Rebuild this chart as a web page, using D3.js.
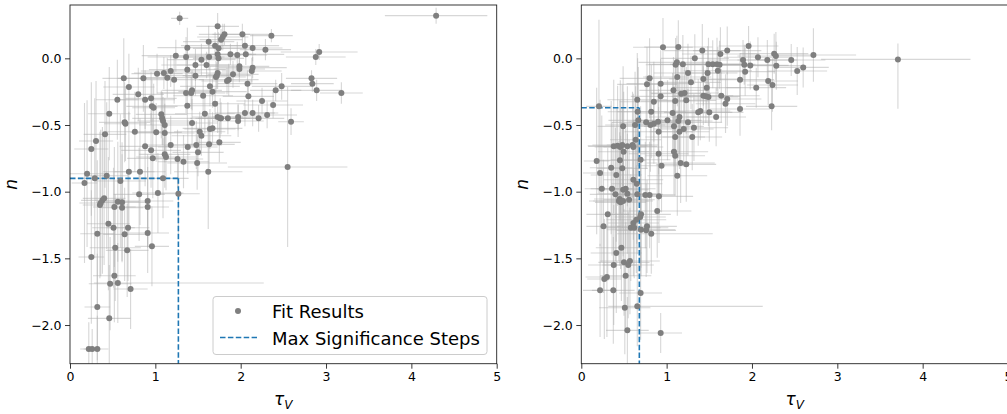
<!DOCTYPE html>
<html>
<head>
<meta charset="utf-8">
<script src="https://cdn.jsdelivr.net/npm/d3@7"></script>
<style>
  html, body { margin: 0; padding: 0; background: #fff; }
  svg { display: block; font-family: "DejaVu Sans", sans-serif; }
</style>
</head>
<body>
<svg id="chart" width="1007" height="414"></svg>
<script>
// ---- Left panel: fit results (tau_V, n) with uncertainties ----
// Error entries are either a symmetric value or [below, above].
const tauA = [1.285,4.29,1.73,1.81,2.02,2.36,1.79,1.77,1.625,1.375,1.70,1.74,2.05,2.14,2.29,2.92,2.88,1.24,1.36,1.63,
  1.73,1.88,1.96,2.06,1.74,1.54,1.60,1.47,1.375,1.985,1.985,2.14,2.13,1.18,1.02,1.10,1.14,1.22,0.63,0.86,
  1.47,1.73,1.72,1.71,1.91,1.86,1.84,2.08,2.83,2.84,2.89,3.18,2.41,2.48,1.64,1.67,1.43,1.42,1.36,1.56,
  2.09,0.69,0.80,0.88,0.95,0.555,0.96,0.98,1.375,1.70,2.25,2.38,0.46,1.07,1.08,1.09,1.11,1.58,1.73,1.76,
  1.77,1.85,1.97,1.97,2.05,2.14,2.21,2.31,2.59,0.64,0.65,1.43,0.76,1.01,1.11,1.52,1.54,1.64,1.67,0.41,
  0.305,0.25,0.88,0.95,0.97,1.11,1.125,1.18,1.26,1.33,1.38,1.48,1.50,1.49,1.63,1.75,1.62,2.55,0.20,0.29,
  0.43,0.69,0.82,0.59,1.09,0.17,0.81,1.03,1.27,0.40,0.38,0.36,0.35,0.56,0.61,0.52,0.61,0.91,0.91,0.45,
  0.51,0.68,0.32,0.64,0.91,0.53,0.67,0.96,0.25,0.52,0.56,0.47,0.71,0.32,0.46,0.22,0.26,0.32];
const nA = [0.30,0.32,0.24,0.18,0.18,0.17,0.16,0.14,0.125,0.08,0.095,0.075,0.095,0.078,0.065,0.048,0.01,0.02,0.01,0.01,
  0.03,0.03,0.025,0.03,0.0,-0.01,-0.05,-0.05,-0.085,-0.06,-0.08,-0.07,-0.095,-0.095,-0.115,-0.11,-0.145,-0.16,-0.15,-0.15,
  -0.13,-0.11,-0.13,-0.14,-0.12,-0.16,-0.17,-0.19,-0.15,-0.19,-0.24,-0.26,-0.24,-0.21,-0.21,-0.25,-0.24,-0.26,-0.26,-0.28,
  -0.285,-0.215,-0.27,-0.31,-0.30,-0.31,-0.36,-0.37,-0.355,-0.34,-0.32,-0.35,-0.415,-0.42,-0.45,-0.47,-0.50,-0.415,-0.44,-0.45,
  -0.45,-0.45,-0.44,-0.47,-0.41,-0.41,-0.45,-0.425,-0.475,-0.48,-0.49,-0.485,-0.55,-0.555,-0.56,-0.55,-0.58,-0.53,-0.525,-0.57,
  -0.62,-0.68,-0.66,-0.69,-0.75,-0.72,-0.74,-0.65,-0.755,-0.775,-0.665,-0.65,-0.705,-0.785,-0.645,-0.63,-0.85,-0.815,-0.865,-0.90,
  -0.88,-0.85,-0.85,-0.92,-0.90,-0.935,-1.02,-1.01,-1.015,-1.05,-1.065,-1.085,-1.10,-1.075,-1.08,-1.115,-1.12,-1.07,-1.115,-1.24,
  -1.27,-1.27,-1.315,-1.32,-1.31,-1.42,-1.44,-1.41,-1.49,-1.63,-1.685,-1.69,-1.73,-1.865,-1.95,-2.18,-2.18,-2.18];
const tauErrA = [0.10,0.60,0.25,0.30,0.35,0.25,0.30,0.25,0.30,0.35,0.40,0.30,0.40,0.35,0.30,0.45,0.35,0.40,0.45,0.35,
  0.40,0.30,0.35,0.45,0.30,0.40,0.35,0.40,0.45,0.35,0.30,0.40,0.35,0.35,0.30,0.35,0.30,0.35,0.25,0.30,
  0.40,0.35,0.40,0.35,0.30,0.35,0.30,0.35,0.30,0.25,0.30,0.25,0.30,0.35,0.35,0.40,0.35,0.40,0.30,0.35,
  0.30,0.30,0.30,0.35,0.30,0.25,0.30,0.25,0.35,0.35,0.30,0.35,0.25,0.30,0.35,0.30,0.30,0.35,0.30,0.35,
  0.30,0.35,0.30,0.30,0.35,0.30,0.30,0.35,0.15,0.30,0.25,0.30,0.35,0.30,0.35,0.30,0.35,0.30,0.35,0.25,
  0.20,0.20,0.30,0.35,0.30,0.30,0.35,0.30,0.30,0.30,0.35,0.30,0.30,0.35,0.30,0.25,0.40,0.70,0.20,0.20,
  0.25,0.30,0.30,0.30,0.30,0.15,0.30,0.30,0.25,0.25,0.25,0.25,0.20,0.25,0.30,0.25,0.25,0.30,0.25,0.25,
  0.25,0.25,0.20,0.25,0.25,0.30,0.25,0.20,0.15,0.25,[0.28,1.71],0.25,0.20,0.15,0.25,0.10,0.10,[0.10,0.13]];
const nErrA = [0.05,0.06,0.10,0.08,0.08,0.05,0.10,0.08,0.12,0.15,0.10,0.12,0.08,0.10,0.08,0.06,0.06,0.12,0.15,0.10,
  0.12,0.08,0.10,0.08,0.10,0.12,0.10,0.12,0.15,0.08,0.10,0.08,0.10,0.12,0.15,0.12,0.15,0.18,0.30,0.25,
  0.15,0.12,0.10,0.12,0.10,0.12,0.10,0.10,0.06,0.06,0.08,0.08,0.08,0.10,0.15,0.12,0.15,0.12,0.15,0.12,
  0.12,0.25,0.20,0.22,0.20,0.30,0.20,0.18,0.15,0.12,0.10,0.10,0.35,0.18,0.20,0.18,0.20,0.15,0.12,0.15,
  0.12,0.12,0.10,0.12,0.10,0.10,0.10,0.10,0.10,0.30,0.28,0.18,0.30,0.22,0.22,0.15,0.15,0.15,0.12,0.40,
  0.45,0.50,0.30,0.28,0.30,0.25,0.25,0.22,0.22,0.20,0.20,0.18,0.18,0.20,0.18,0.15,0.43,0.60,0.55,0.60,
  0.55,0.45,0.40,0.50,0.30,0.60,0.35,0.30,0.30,0.50,0.55,0.55,0.55,0.45,0.45,0.45,0.40,0.35,0.30,0.50,
  0.45,0.40,0.55,0.35,0.30,0.40,0.35,0.30,0.50,0.35,0.30,0.35,0.30,0.40,0.40,0.20,0.15,[0.15,0.25]];
const stepA = { tau: 1.27, n: -0.90 };

// ---- Right panel ----
const tauB = [0.957,1.137,1.418,1.33,1.63,1.71,1.96,1.895,1.91,1.98,2.07,2.18,2.26,2.28,2.285,2.46,2.53,2.60,2.72,3.71,
  1.12,1.19,1.105,1.25,1.49,1.54,1.59,1.62,1.48,1.60,1.125,1.285,1.43,1.92,1.86,2.19,2.24,2.05,0.80,0.77,
  0.93,1.08,1.17,1.21,1.23,1.10,0.93,0.85,0.656,1.47,1.43,1.46,1.49,1.64,1.71,1.69,1.86,2.23,1.50,1.395,
  1.37,1.58,0.207,0.66,0.82,1.07,1.15,1.01,0.668,0.76,0.81,0.85,0.90,0.906,0.63,0.49,1.086,1.137,1.20,1.25,
  1.15,1.32,1.30,1.10,0.637,0.906,1.086,1.10,1.164,1.23,0.94,1.125,0.38,0.425,0.457,0.48,0.496,0.54,0.60,0.61,
  0.453,0.695,0.18,0.22,0.35,0.48,0.41,0.61,0.65,0.24,0.36,0.49,0.52,0.40,0.54,0.656,0.75,0.80,0.91,0.45,
  0.44,0.46,0.49,0.56,0.89,0.31,0.70,0.69,0.645,0.61,0.26,0.58,0.62,0.77,0.70,0.76,0.82,0.47,0.41,0.50,
  0.57,0.38,0.55,0.52,0.30,0.27,0.22,0.375,0.695,0.51,0.656,0.54,0.93];
const nB = [0.083,0.085,0.058,0.0,0.033,0.058,0.093,-0.013,-0.048,-0.053,0.008,-0.013,0.035,0.018,-0.055,-0.013,-0.095,-0.068,0.025,-0.008,
  -0.03,-0.045,-0.048,-0.11,-0.045,-0.045,-0.045,-0.048,-0.11,-0.093,-0.14,-0.18,-0.155,-0.10,-0.16,-0.17,-0.20,-0.22,-0.15,-0.195,
  -0.19,-0.24,-0.265,-0.26,-0.315,-0.32,-0.285,-0.325,-0.31,-0.22,-0.28,-0.285,-0.29,-0.28,-0.305,-0.34,-0.38,-0.36,-0.405,-0.395,
  -0.405,-0.44,-0.36,-0.40,-0.40,-0.41,-0.44,-0.465,-0.465,-0.48,-0.50,-0.49,-0.475,-0.55,-0.50,-0.51,-0.51,-0.47,-0.53,-0.48,
  -0.55,-0.52,-0.59,-0.59,-0.61,-0.715,-0.70,-0.73,-0.785,-0.795,-0.805,-0.88,-0.66,-0.655,-0.665,-0.65,-0.70,-0.66,-0.65,-0.665,
  -0.765,-0.76,-0.77,-0.86,-0.82,-0.825,-0.875,-0.91,-0.94,-0.978,-0.978,-0.985,-0.978,-1.02,-1.015,-1.02,-1.025,-1.025,-1.035,-1.055,
  -1.07,-1.08,-1.07,-1.06,-1.145,-1.17,-1.17,-1.19,-1.21,-1.235,-1.26,-1.27,-1.27,-1.26,-1.285,-1.29,-1.315,-1.42,-1.46,-1.53,
  -1.52,-1.55,-1.55,-1.63,-1.64,-1.655,-1.74,-1.74,-1.76,-1.87,-1.86,-2.04,-2.06];
const tauErrB = [0.35,0.40,0.45,0.40,0.45,0.40,0.35,0.40,0.35,0.45,0.40,0.35,0.40,0.45,0.35,0.40,0.35,0.30,0.50,[0.90,0.85],
  0.45,0.40,0.35,0.40,0.45,0.40,0.45,0.40,0.35,0.40,0.40,0.35,0.40,0.35,0.40,0.35,0.30,0.35,0.35,0.35,
  0.40,0.40,0.35,0.40,0.35,0.40,0.35,0.40,0.35,0.40,0.35,0.40,0.35,0.45,0.40,0.35,0.35,0.30,0.40,0.35,
  0.40,0.35,0.15,0.35,0.40,0.40,0.35,0.40,0.35,0.40,0.35,0.40,0.35,0.40,0.35,0.30,0.35,0.40,0.35,0.40,
  0.35,0.40,0.35,0.35,0.30,0.35,0.40,0.35,0.40,0.35,0.30,0.35,0.30,0.35,0.30,0.35,0.30,0.35,0.30,0.35,
  0.30,0.35,0.15,0.20,0.25,0.30,0.30,0.35,0.30,0.20,0.25,0.30,0.35,0.30,0.35,0.30,0.35,0.30,0.40,0.30,
  0.35,0.30,0.35,0.30,0.40,0.25,0.35,0.30,0.35,0.30,0.20,0.35,0.40,0.35,0.40,0.35,[0.40,0.72],0.30,0.30,0.30,
  0.35,0.30,0.30,0.30,0.25,0.20,0.20,0.25,0.25,0.30,[0.34,1.47],0.25,0.25];
const nErrB = [0.22,0.20,0.20,0.18,0.20,0.18,0.15,0.15,0.15,0.18,0.15,0.15,0.15,0.18,0.18,0.12,0.18,0.15,0.20,[0.37,0.12],
  0.20,0.22,0.20,0.22,0.20,0.18,0.20,0.18,0.20,0.18,0.22,0.20,0.20,0.18,0.20,0.18,0.20,0.15,0.30,0.28,
  0.25,0.25,0.22,0.22,0.25,0.25,0.28,0.30,0.35,0.20,0.22,0.20,0.22,0.20,0.20,0.22,0.20,0.18,0.22,0.22,
  0.25,0.22,0.65,0.40,0.35,0.30,0.28,0.30,0.40,0.35,0.35,0.30,0.30,0.32,0.40,0.45,0.30,0.28,0.28,0.25,
  0.28,0.25,0.25,0.30,0.40,0.35,0.32,0.30,0.30,0.28,0.35,0.30,0.50,0.45,0.50,0.45,0.45,0.45,0.40,0.40,
  0.45,0.40,0.55,0.55,0.50,0.45,0.50,0.45,0.45,0.55,0.50,0.50,0.45,0.50,0.45,0.45,0.40,0.40,0.35,0.50,
  0.45,0.50,0.45,0.45,0.35,0.50,0.40,0.40,0.40,0.40,0.50,0.40,0.38,0.35,0.35,0.35,0.30,0.40,0.45,0.40,
  0.40,0.45,0.40,0.40,0.45,0.45,0.35,0.40,0.35,0.35,0.30,0.25,0.15];
const stepB = { tau: 0.68, n: -0.37 };

const xTicks = [0, 1, 2, 3, 4, 5];
const yTicks = [-2.0, -1.5, -1.0, -0.5, 0.0];
const legendLabels = ["Fit Results", "Max Significance Steps"];

const svg = d3.select("#chart");
const plotTop = 5, plotBottom = 363.7;
const colors = { point: "#7f7f7f", err: "#b0b0b0", step: "#1f77b4" };

function errPair(e) { return Array.isArray(e) ? e : [e, e]; }

function drawPanel(id, left, right, tau, n, tauErr, nErr, step, withLegend) {
  const x = d3.scaleLinear().domain([0, 5]).range([left, right]);
  const y = d3.scaleLinear().domain([-2.29, 0.40]).range([plotBottom, plotTop]);
  const g = svg.append("g");

  g.append("clipPath").attr("id", id).append("rect")
    .attr("x", left).attr("y", plotTop).attr("width", right - left).attr("height", plotBottom - plotTop);
  const plot = g.append("g").attr("clip-path", `url(#${id})`);

  const pts = tau.map((t, i) => ({ t, n: n[i], te: errPair(tauErr[i]), ne: errPair(nErr[i]) }));

  // error bars
  const eb = plot.append("g").attr("stroke", colors.err).attr("stroke-opacity", 0.5).attr("stroke-width", 1.1);
  eb.selectAll("line.h").data(pts).join("line").attr("class", "h")
    .attr("x1", d => x(d.t - d.te[0])).attr("x2", d => x(d.t + d.te[1]))
    .attr("y1", d => y(d.n)).attr("y2", d => y(d.n));
  eb.selectAll("line.v").data(pts).join("line").attr("class", "v")
    .attr("x1", d => x(d.t)).attr("x2", d => x(d.t))
    .attr("y1", d => y(d.n - d.ne[0])).attr("y2", d => y(d.n + d.ne[1]));

  // step lines
  const dash = "5.5,2.4";
  plot.append("line").attr("x1", x(0)).attr("x2", x(step.tau)).attr("y1", y(step.n)).attr("y2", y(step.n))
    .attr("stroke", colors.step).attr("stroke-width", 1.6).attr("stroke-dasharray", dash);
  plot.append("line").attr("x1", x(step.tau)).attr("x2", x(step.tau)).attr("y1", y(step.n)).attr("y2", y(-2.29))
    .attr("stroke", colors.step).attr("stroke-width", 1.6).attr("stroke-dasharray", dash);

  // points
  plot.append("g").selectAll("circle").data(pts).join("circle")
    .attr("cx", d => x(d.t)).attr("cy", d => y(d.n)).attr("r", 3).attr("fill", colors.point);

  // frame
  g.append("rect").attr("x", left).attr("y", plotTop).attr("width", right - left).attr("height", plotBottom - plotTop)
    .attr("fill", "none").attr("stroke", "#222").attr("stroke-width", 0.9);

  // axes
  const xa = g.append("g").attr("transform", `translate(0,${plotBottom})`)
    .call(d3.axisBottom(x).tickValues(xTicks).tickFormat(d3.format("d")).tickSize(5).tickPadding(3));
  const ya = g.append("g").attr("transform", `translate(${left},0)`)
    .call(d3.axisLeft(y).tickValues(yTicks).tickFormat(d3.format(".1f")).tickSize(5).tickPadding(3.5));
  [xa, ya].forEach(a => {
    a.select(".domain").remove();
    a.selectAll(".tick line").attr("stroke", "#222").attr("stroke-width", 0.9);
    a.selectAll(".tick text").attr("font-family", "DejaVu Sans").attr("font-size", 12.5).attr("fill", "#000");
  });

  // axis labels
  const xl = g.append("text").attr("x", (left + right) / 2).attr("y", 405)
    .attr("text-anchor", "middle").attr("font-size", 17).attr("font-style", "italic").attr("fill", "#000");
  xl.append("tspan").text("τ");
  xl.append("tspan").attr("font-size", 12).attr("dy", 4).text("V");

  g.append("text").attr("transform", `translate(${left - 53},${(plotTop + plotBottom) / 2}) rotate(-90)`)
    .attr("text-anchor", "middle").attr("font-size", 17).attr("font-style", "italic").attr("fill", "#000")
    .text("n");

  if (withLegend) {
    const lg = g.append("g");
    lg.append("rect").attr("x", 213).attr("y", 296.5).attr("width", 274).attr("height", 58).attr("rx", 3)
      .attr("fill", "#fff").attr("fill-opacity", 0.8).attr("stroke", "#ccc").attr("stroke-width", 1);
    lg.append("circle").attr("cx", 238).attr("cy", 311).attr("r", 3).attr("fill", colors.point);
    lg.append("line").attr("x1", 220).attr("x2", 257).attr("y1", 337.5).attr("y2", 337.5)
      .attr("stroke", colors.step).attr("stroke-width", 1.6).attr("stroke-dasharray", dash);
    lg.selectAll("text").data(legendLabels).join("text")
      .attr("x", 272).attr("y", (d, i) => 317.5 + i * 27)
      .attr("font-size", 18).attr("fill", "#000").text(d => d);
  }
}

drawPanel("clipA", 70, 496.7, tauA, nA, tauErrA, nErrA, stepA, true);
drawPanel("clipB", 581.3, 1008, tauB, nB, tauErrB, nErrB, stepB, false);
</script>
</body>
</html>
